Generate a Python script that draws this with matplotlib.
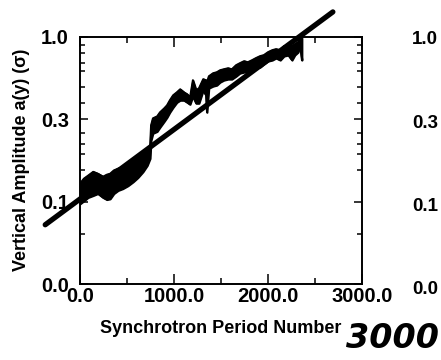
import matplotlib
matplotlib.use("Agg")
import matplotlib.pyplot as plt
from matplotlib.ticker import FixedLocator, NullFormatter

plt.rcParams['font.family'] = ['Liberation Sans', 'DejaVu Sans']

# ---- data ----
period = [0, 40, 85, 140, 190, 245, 285, 320, 360, 405, 455, 510, 565, 615, 670,
          715, 745, 755, 775, 820, 850, 895, 925, 955, 990, 1030, 1065, 1105, 1140,
          1170, 1200, 1235, 1265, 1310, 1340, 1350, 1370, 1415, 1455, 1490, 1530,
          1575, 1615, 1660, 1700, 1745, 1785, 1830, 1870, 1915, 1955, 2000, 2045,
          2085, 2130, 2170, 2215, 2255, 2285, 2320, 2340, 2360]
amp_high = [0.129, 0.138, 0.144, 0.152, 0.148, 0.142, 0.146, 0.148, 0.155, 0.159,
            0.163, 0.170, 0.178, 0.183, 0.196, 0.205, 0.216, 0.291, 0.321, 0.330,
            0.349, 0.369, 0.385, 0.413, 0.443, 0.462, 0.482, 0.462, 0.449, 0.431,
            0.547, 0.475, 0.489, 0.555, 0.547, 0.532, 0.578, 0.603, 0.612, 0.629,
            0.638, 0.647, 0.638, 0.675, 0.694, 0.714, 0.704, 0.724, 0.745, 0.766,
            0.777, 0.810, 0.833, 0.845, 0.833, 0.881, 0.894, 0.881, 0.906, 0.932,
            1.014, 0.986]
amp_low = [0.097, 0.101, 0.106, 0.109, 0.112, 0.106, 0.103, 0.104, 0.112, 0.117,
           0.120, 0.125, 0.132, 0.140, 0.152, 0.166, 0.183, 0.235, 0.260, 0.267,
           0.283, 0.307, 0.325, 0.349, 0.374, 0.401, 0.413, 0.413, 0.401, 0.390,
           0.437, 0.396, 0.396, 0.475, 0.443, 0.349, 0.489, 0.503, 0.510, 0.532,
           0.547, 0.555, 0.555, 0.578, 0.603, 0.612, 0.612, 0.629, 0.647, 0.656,
           0.684, 0.714, 0.724, 0.745, 0.724, 0.766, 0.777, 0.724, 0.777, 0.810,
           0.894, 0.724]

fit_period = [-370, 2690]
fit_amp = [0.0724, 1.42]

x_ticks = [0, 1000, 2000, 3000]
x_tick_labels = ["0.0", "1000.0", "2000.0", "3000.0"]
x_minor = [500, 1500, 2500]
y_ticks = [0.03162, 0.3162, 0.1, 1.0]
y_tick_labels = ["0.0", "0.3", "0.1", "1.0"]
y_minor = [0.9, 0.8, 0.7, 0.62, 0.5, 0.4, 0.26, 0.225, 0.195, 0.155, 0.064]
right_panel_labels = ["1.0", "0.3", "0.1", "0.0"]

fig = plt.figure(figsize=(4.41, 3.60), dpi=100)
ax = fig.add_axes([80/441, 1-284/360, 282/441, 247/360])

ax.fill_between(period, amp_low, amp_high, color='black', lw=1.5, edgecolor='black')
ax.plot(period, amp_high, color='black', lw=1.3)
ax.plot(period, amp_low, color='black', lw=1.3)
ax.plot(fit_period, fit_amp, color='black', lw=3.8, solid_capstyle='round', clip_on=False)

ax.set_yscale('log')
ax.set_xlim(0, 3000)
ax.set_ylim(0.03162, 1.0)

ax.xaxis.set_major_locator(FixedLocator(x_ticks))
ax.set_xticklabels(x_tick_labels)
ax.xaxis.set_minor_locator(FixedLocator(x_minor))
ax.yaxis.set_major_locator(FixedLocator(y_ticks))
ax.set_yticklabels(y_tick_labels)
ax.yaxis.set_minor_locator(FixedLocator(y_minor))
ax.yaxis.set_minor_formatter(NullFormatter())

for s in ax.spines.values():
    s.set_linewidth(1.4)

ax.tick_params(axis='both', which='both', direction='in', top=True, right=True,
               width=1.1, labelsize=14.5, color='black')
ax.tick_params(axis='x', which='major', length=7, pad=2)
ax.tick_params(axis='x', which='minor', length=4)
ax.tick_params(axis='y', which='major', length=6, pad=8)
ax.tick_params(axis='y', which='minor', length=3.5)
for lab in ax.get_xticklabels() + ax.get_yticklabels():
    lab.set_fontweight('bold')

fig.text(221/441, 1-333/360, "Synchrotron Period Number", ha='center', va='baseline',
         fontsize=13, fontweight='bold')
fig.text(22/441, 1-160/360, "Vertical Amplitude a(y) (σ)", rotation=90, ha='center',
         va='center', fontsize=13, fontweight='bold')

right_y = [40, 123, 207, 290]
for lab, py in zip(right_panel_labels, right_y):
    fig.text(412/441, 1-py/360, lab, ha='left', va='center', fontsize=13.5, fontweight='bold')

fig.text(393/441, 1-339/360, "3000", ha='center', va='center', fontsize=24,
         fontweight='bold', style='italic', family='DejaVu Sans')

fig.savefig("out.png", dpi=100)
